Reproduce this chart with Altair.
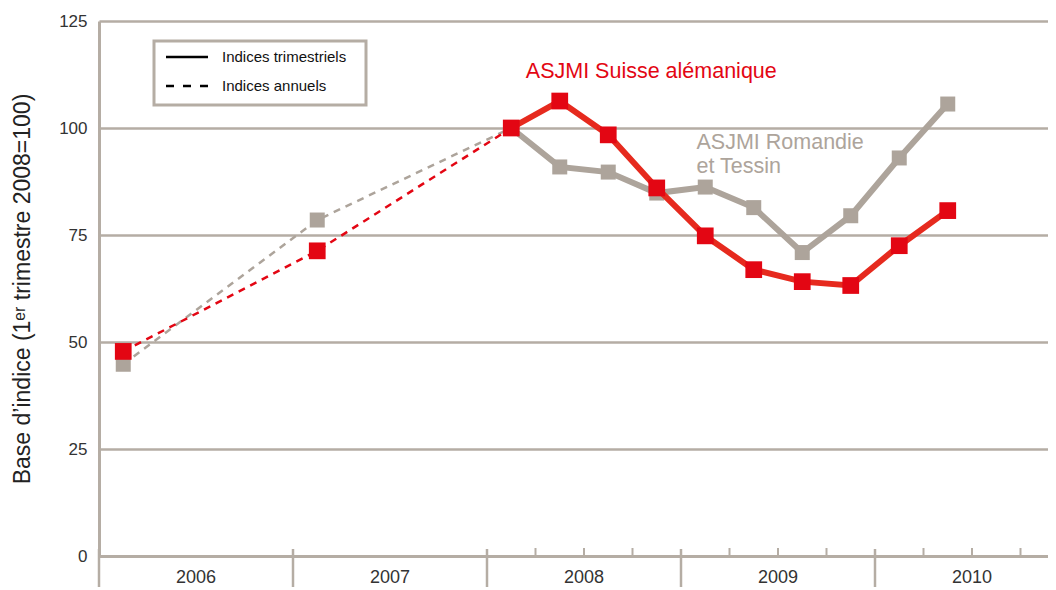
import altair as alt
import pandas as pd

# ---- data ----
annual_years = [2006, 2007]
red_annual = [47.8, 71.3]
gray_annual = [44.8, 78.5]

quarter_labels = ["2008-T1", "2008-T2", "2008-T3", "2008-T4",
                  "2009-T1", "2009-T2", "2009-T3", "2009-T4",
                  "2010-T1", "2010-T2"]
red_quarterly = [100.0, 106.3, 98.4, 86.0, 74.8, 66.9, 64.1, 63.2, 72.5, 80.7]
gray_quarterly = [100.0, 90.9, 89.7, 84.8, 86.2, 81.4, 70.9, 79.5, 93.0, 105.6]

year_bounds = [2006, 2007, 2008, 2009, 2010]
year_labels = ["2006", "2007", "2008", "2009", "2010"]
quarter_ticks = [2008.25, 2008.5, 2008.75, 2009.25, 2009.5, 2009.75,
                 2010.25, 2010.5, 2010.75]
y_ticks = [0, 25, 50, 75, 100, 125]

RED = "#E30613"
RED_LINE = "#E62A1E"
GRAY = "#ADA49B"
GRID = "#B5ADA4"

W, H = 949, 535


def qpos(label):
    y, q = label.split("-T")
    return int(y) + (int(q) - 0.5) / 4


# annual series (dashed), ending at 2008 T1
ann_rows = []
for yr, r, g in zip(annual_years, red_annual, gray_annual):
    ann_rows.append({"t": yr + 0.125, "v": r, "s": "red"})
    ann_rows.append({"t": yr + 0.125, "v": g, "s": "gray"})
ann_rows.append({"t": qpos(quarter_labels[0]), "v": red_quarterly[0], "s": "red"})
ann_rows.append({"t": qpos(quarter_labels[0]), "v": gray_quarterly[0], "s": "gray"})
ann = pd.DataFrame(ann_rows)

q_red = pd.DataFrame({"t": [qpos(q) for q in quarter_labels], "v": red_quarterly})
q_gray = pd.DataFrame({"t": [qpos(q) for q in quarter_labels], "v": gray_quarterly})
pts_red = pd.DataFrame({"t": [y + 0.125 for y in annual_years] + list(q_red["t"]),
                        "v": red_annual + red_quarterly})
pts_gray = pd.DataFrame({"t": [y + 0.125 for y in annual_years] + list(q_gray["t"]),
                         "v": gray_annual + gray_quarterly})

xscale = alt.Scale(domain=[2006, 2006 + W / 194], nice=False, zero=False)
yscale = alt.Scale(domain=[0, 125], nice=False)

x_axis = alt.Axis(labels=False, ticks=False, grid=False, title=None,
                  domainColor=GRID, domainWidth=3)
y_axis = alt.Axis(values=y_ticks, grid=True, gridColor=GRID, gridWidth=2.5,
                  ticks=False, domainColor=GRID, domainWidth=3,
                  labelFont="Liberation Sans", labelFontSize=17,
                  labelColor="#333333", labelPadding=12,
                  title="Base d\u2019indice (1\u1d49\u02b3 trimestre 2008=100)",
                  titleFont="Liberation Sans", titleFontSize=23,
                  titleFontWeight="normal", titleColor="#222222",
                  titlePadding=24)


def X():
    return alt.X("t:Q", scale=xscale, axis=x_axis)


def Y():
    return alt.Y("v:Q", scale=yscale, axis=y_axis)


dashed_gray = alt.Chart(ann[ann.s == "gray"]).mark_line(
    color=GRAY, strokeWidth=2.5, strokeDash=[7, 6]).encode(x=X(), y=Y())
dashed_red = alt.Chart(ann[ann.s == "red"]).mark_line(
    color=RED, strokeWidth=2.5, strokeDash=[7, 6]).encode(x=X(), y=Y())

line_gray = alt.Chart(q_gray).mark_line(color=GRAY, strokeWidth=6).encode(x=X(), y=Y())
sq_gray = alt.Chart(pts_gray).mark_point(shape="square", filled=True, size=225,
                                         color=GRAY, opacity=1).encode(x=X(), y=Y())
line_red = alt.Chart(q_red).mark_line(color=RED_LINE, strokeWidth=6).encode(x=X(), y=Y())
sq_red = alt.Chart(pts_red).mark_point(shape="square", filled=True, size=280,
                                       color=RED, opacity=1).encode(x=X(), y=Y())

# legend box
one = pd.DataFrame({"a": [0]})
leg_box = alt.Chart(one).mark_rect(fill="white", stroke=GRID, strokeWidth=3).encode(
    x=alt.value(55), x2=alt.value(267), y=alt.value(20), y2=alt.value(84))
leg_solid = alt.Chart(one).mark_rule(color="black", strokeWidth=2.5).encode(
    x=alt.value(67), x2=alt.value(109), y=alt.value(36))
leg_dash = alt.Chart(one).mark_rule(color="black", strokeWidth=2.5, strokeDash=[8, 9]).encode(
    x=alt.value(67), x2=alt.value(109), y=alt.value(65))
leg_txt = alt.Chart(pd.DataFrame({"txt": ["Indices trimestriels", "Indices annuels"],
                                  "yy": [36, 65]})).mark_text(
    align="left", baseline="middle", font="Liberation Sans", fontSize=15, color="#111111").encode(
    x=alt.value(123), y=alt.Y("yy:Q", scale=None), text="txt:N")

# series labels
lab_red = alt.Chart(pd.DataFrame({"t": [2008.2], "v": [113.1], "txt": ["ASJMI Suisse alémanique"]})).mark_text(
    align="left", baseline="middle", font="Liberation Sans", fontSize=21.5, color=RED).encode(
    x=X(), y=Y(), text="txt:N")
lab_gray = alt.Chart(pd.DataFrame({"t": [2009.08, 2009.08], "v": [96.5, 90.9],
                                   "txt": ["ASJMI Romandie", "et Tessin"]})).mark_text(
    align="left", baseline="middle", font="Liberation Sans", fontSize=21.5, color=GRAY).encode(
    x=X(), y=Y(), text="txt:N")

# x axis decorations
seps = alt.Chart(pd.DataFrame({"t": year_bounds})).mark_rule(color=GRID, strokeWidth=2.5).encode(
    x=X(), y=alt.value(H - 7), y2=alt.value(H + 31))
qt = alt.Chart(pd.DataFrame({"t": quarter_ticks})).mark_rule(color=GRID, strokeWidth=2).encode(
    x=X(), y=alt.value(H - 8), y2=alt.value(H))
ylab = alt.Chart(pd.DataFrame({"t": [y + 0.5 for y in year_bounds], "txt": year_labels})).mark_text(
    align="center", baseline="middle", font="Liberation Sans", fontSize=18, color="#333333").encode(
    x=X(), y=alt.value(H + 22), text="txt:N")

chart = alt.layer(
    dashed_gray, dashed_red, leg_box, leg_solid, leg_dash, leg_txt,
    line_gray, sq_gray, line_red, sq_red, lab_red, lab_gray, seps, qt, ylab
).properties(
    width=W, height=H,
    padding={"left": 91, "top": 13, "right": 0, "bottom": 32},
    autosize=alt.AutoSizeParams(type="none"),
).configure_view(stroke=None, clip=False)

chart.save("out.html", embed_options={"renderer": "svg", "actions": False})
